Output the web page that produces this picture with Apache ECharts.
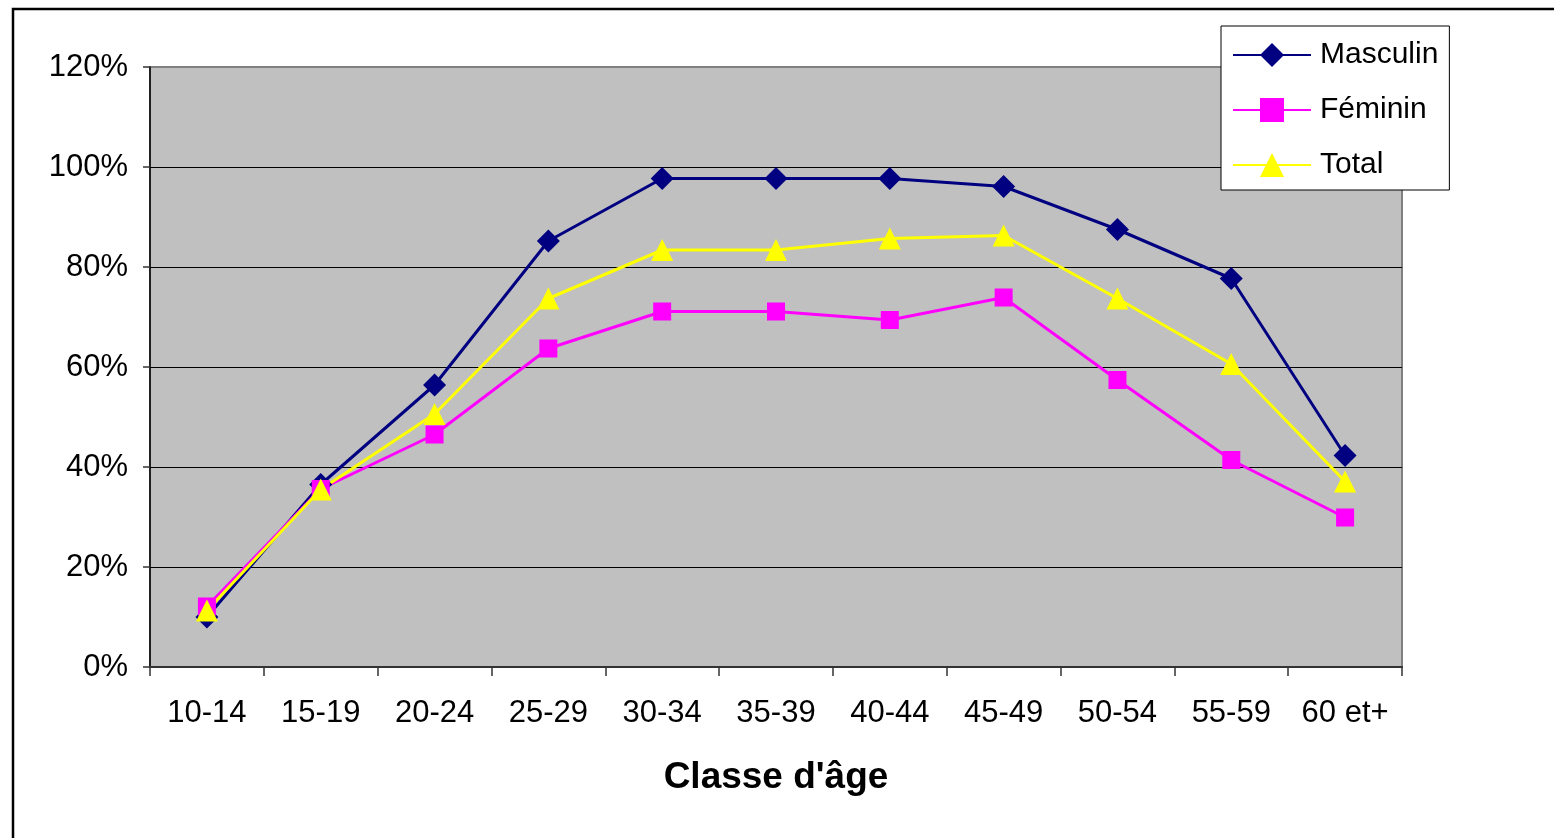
<!DOCTYPE html>
<html>
<head>
<meta charset="utf-8">
<script src="https://cdn.jsdelivr.net/npm/echarts@6/dist/echarts.min.js"></script>
<style>
html,body{margin:0;padding:0;background:#fff;}
#chart{width:1554px;height:838px;}
</style>
</head>
<body>
<div id="chart"></div>
<script>
const categories = ['10-14','15-19','20-24','25-29','30-34','35-39','40-44','45-49','50-54','55-59','60 et+'];
const masculin = [10.0, 36.5, 56.4, 85.2, 97.7, 97.7, 97.7, 96.1, 87.5, 77.7, 42.3];
const feminin  = [12.1, 35.6, 46.5, 63.7, 71.1, 71.1, 69.4, 73.9, 57.4, 41.4, 29.9];
const total    = [11.3, 35.5, 50.6, 73.7, 83.4, 83.4, 85.7, 86.3, 73.7, 60.6, 37.1];
const seriesNames = ['Masculin', 'Féminin', 'Total'];
const xAxisTitle = "Classe d'âge";

const FONT = '"Liberation Sans", Arial, sans-serif';
const chart = echarts.init(document.getElementById('chart'));
chart.setOption({
  animation: false,
  backgroundColor: '#ffffff',
  textStyle: { fontFamily: FONT },
  grid: {
    left: 150, right: 152, top: 67, bottom: 171,
    show: true, backgroundColor: '#C0C0C0',
    borderColor: '#808080', borderWidth: 2
  },
  legend: {
    orient: 'vertical',
    left: 1221, top: 26,
    padding: [14, 11, 10, 11],
    itemWidth: 78, itemHeight: 30, itemGap: 25,
    backgroundColor: '#ffffff',
    borderColor: '#000000', borderWidth: 1,
    textStyle: { fontFamily: FONT, fontSize: 30, color: '#000', lineHeight: 30, padding: [0, 0, 0, 4] },
    data: seriesNames
  },
  xAxis: {
    type: 'category',
    data: categories,
    boundaryGap: true,
    name: xAxisTitle,
    nameLocation: 'middle',
    nameGap: 92,
    nameTextStyle: { fontFamily: FONT, fontSize: 37, fontWeight: 'bold', color: '#000' },
    axisLine: { show: true, lineStyle: { color: '#333', width: 2 } },
    axisTick: { show: true, length: 9, alignWithLabel: false, lineStyle: { color: '#333', width: 1.5 } },
    axisLabel: { fontFamily: FONT, fontSize: 31, color: '#000', margin: 31 },
    splitLine: { show: false }
  },
  yAxis: {
    type: 'value',
    min: 0, max: 120, interval: 20,
    axisLine: { show: true, lineStyle: { color: '#000', width: 1.5 } },
    axisTick: { show: true, length: 7, lineStyle: { color: '#333', width: 1.5 } },
    axisLabel: { fontFamily: FONT, fontSize: 31, color: '#000', margin: 22, formatter: '{value}%' },
    splitLine: { show: true, showMaxLine: false, showMinLine: false, lineStyle: { color: '#000', width: 1 } }
  },
  series: [
    {
      name: seriesNames[0], type: 'line', data: masculin,
      symbol: 'diamond', symbolSize: 23,
      lineStyle: { color: '#000080', width: 3 },
      itemStyle: { color: '#000080' }
    },
    {
      name: seriesNames[1], type: 'line', data: feminin,
      symbol: 'rect', symbolSize: 18,
      lineStyle: { color: '#FF00FF', width: 3 },
      itemStyle: { color: '#FF00FF' }
    },
    {
      name: seriesNames[2], type: 'line', data: total,
      symbol: 'triangle', symbolSize: 22,
      lineStyle: { color: '#FFFF00', width: 3 },
      itemStyle: { color: '#FFFF00' }
    }
  ],
  graphic: [
    {
      type: 'rect',
      shape: { x: 13, y: 9, width: 1700, height: 1000 },
      style: { fill: 'none', stroke: '#000', lineWidth: 2.5 },
      silent: true
    }
  ]
});
</script>
</body>
</html>
